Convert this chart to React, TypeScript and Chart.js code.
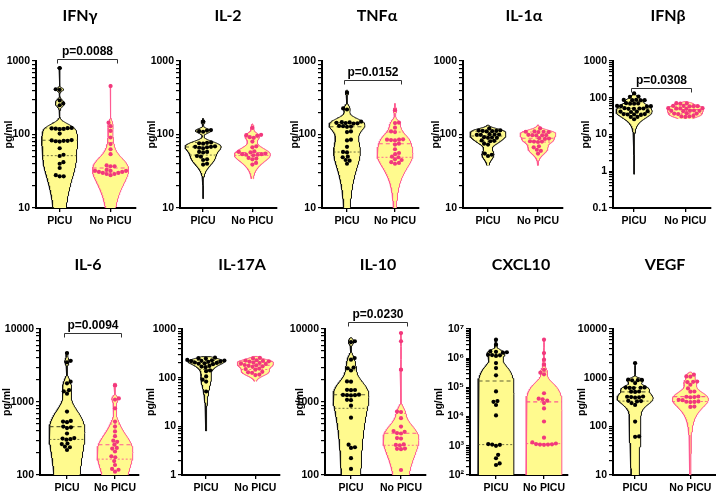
import React, { useEffect, useRef } from 'react';
import { Chart, registerables } from 'chart.js';
Chart.register(...registerables);

// ---------------- DATA ----------------
const categories = ['PICU', 'No PICU'];
const panelNames = ['IFNγ', 'IL-2', 'TNFα', 'IL-1α', 'IFNβ', 'IL-6', 'IL-17A', 'IL-10', 'CXCL10', 'VEGF'];

const ifngPicu = [800, 413, 405, 290, 265, 250, 123, 122, 121, 120, 119, 118, 103, 84, 83, 82, 82, 81, 80, 65, 53, 51, 42, 40, 35, 28, 27, 27];
const ifngNoPicu = [457, 145, 130, 112, 91, 74, 63, 54, 38, 37, 37, 33, 32, 32, 32, 31, 31, 30, 30, 29, 29, 28];
const il2Picu = [149, 115, 113, 111, 109, 78, 77, 76, 75, 69, 68, 68, 67, 66, 65, 58, 58, 57, 51, 50, 46, 45, 40, 39];
const il2NoPicu = [123, 99, 98, 96, 92, 90, 80, 69, 67, 59, 58, 57, 55, 54, 54, 53, 53, 52, 48, 47, 46, 41, 39];
const tnfaPicu = [370, 226, 219, 150, 147, 146, 144, 143, 142, 141, 131, 130, 128, 127, 110, 108, 85, 83, 68, 58, 57, 50, 49, 45, 44, 40];
const tnfaNoPicu = [214, 145, 143, 124, 110, 108, 86, 85, 85, 84, 83, 75, 73, 63, 56, 54, 50, 49, 46, 45, 42, 41, 40];
const il1aPicu = [121, 114, 113, 112, 112, 111, 110, 101, 100, 100, 99, 99, 92, 91, 90, 90, 83, 82, 81, 75, 73, 55, 53, 51];
const il1aNoPicu = [121, 110, 109, 109, 108, 108, 99, 98, 98, 97, 97, 89, 88, 87, 81, 80, 80, 79, 69, 67, 62, 60, 55];
const ifnbPicu = [131, 108, 106, 88, 87, 86, 86, 85, 71, 70, 69, 69, 60, 59, 59, 58, 52, 51, 51, 50, 50, 43, 42, 42, 41, 36, 36, 35, 35, 34, 30, 30, 26];
const ifnbNoPicu = [70, 69, 71, 60, 59, 58, 60, 59, 52, 51, 50, 52, 51, 44, 44, 43, 45, 44, 37, 37, 38, 36, 31, 31, 32, 30];
const il6Picu = [4680, 3670, 3500, 1900, 1800, 1450, 1400, 1300, 740, 550, 540, 530, 460, 450, 440, 370, 320, 315, 310, 305, 270, 265, 245, 240, 220];
const il6NoPicu = [1690, 1120, 1080, 820, 540, 460, 395, 340, 295, 285, 260, 235, 230, 210, 180, 175, 155, 137, 121, 118, 111];
const il17aPicu = [258, 252, 247, 232, 228, 225, 222, 219, 216, 212, 205, 201, 197, 193, 189, 174, 169, 164, 141, 136, 106, 91, 83, 52];
const il17aNoPicu = [255, 248, 228, 224, 221, 217, 213, 204, 200, 196, 192, 182, 179, 175, 171, 167, 154, 150, 146, 132, 129, 126, 116, 113];
const il10Picu = [6800, 6600, 4000, 3800, 2970, 2900, 2700, 1915, 1900, 1470, 1460, 1450, 1260, 1250, 1240, 1240, 1230, 1070, 1060, 890, 610, 260, 240, 235, 170, 121];
const il10NoPicu = [8800, 6800, 2770, 740, 730, 600, 460, 400, 390, 375, 370, 320, 315, 262, 258, 255, 230, 228, 226, 117];
const cxcl10Picu = [4.3e6, 2.9e6, 1.7e6, 1.65e6, 1.6e6, 1.55e6, 1.3e6, 1.28e6, 1.25e6, 1.2e6, 6.8e5, 4.6e5, 2.6e5, 7.3e4, 3.4e4, 3.2e4, 2.5e4, 1.1e4, 1150, 1100, 1080, 1000, 490, 375, 250, 220];
const cxcl10NoPicu = [4.3e6, 1.5e6, 8.9e5, 6e5, 4e5, 3.2e5, 2.8e5, 6.3e4, 4.1e4, 3.9e4, 3.5e4, 2.9e4, 1.9e4, 6.8e3, 1.9e3, 1.3e3, 1.2e3, 1.15e3, 1.12e3, 1.1e3, 1.1e3, 1.08e3];
const vegfPicu = [2000, 910, 900, 890, 880, 775, 630, 625, 620, 615, 610, 520, 515, 510, 410, 405, 400, 395, 390, 335, 330, 325, 300, 275, 125, 62, 61];
const vegfNoPicu = [1150, 1060, 1050, 830, 820, 810, 715, 600, 520, 515, 410, 405, 400, 395, 350, 345, 325, 320, 318, 315, 255, 250];

const groupValues = [
  [ifngPicu, ifngNoPicu], [il2Picu, il2NoPicu], [tnfaPicu, tnfaNoPicu], [il1aPicu, il1aNoPicu], [ifnbPicu, ifnbNoPicu],
  [il6Picu, il6NoPicu], [il17aPicu, il17aNoPicu], [il10Picu, il10NoPicu], [cxcl10Picu, cxcl10NoPicu], [vegfPicu, vegfNoPicu],
];

// violin extent (lowest, highest) per group; 0 = runs past the axis floor
const violinEndsPicu = [[0, 850], [13.4, 165], [0, 400], [38, 134], [0.83, 140], [0, 4800], [8, 270], [0, 7600], [0, 4.5e6], [0, 2000]];
const violinEndsNoPicu = [[0, 480], [25, 140], [0, 264], [38, 135], [27, 78], [0, 1800], [84, 273], [0, 8900], [0, 4.5e6], [0, 1300]];

const yAxisMin = [10, 10, 10, 10, 0.1, 100, 1, 100, 100, 10];
const yAxisMax = [1000, 1000, 1000, 1000, 1000, 10000, 1000, 10000, 1e7, 10000];
const yTickLabels = [
  ['10', '100', '1000'], ['10', '100', '1000'], ['10', '100', '1000'], ['10', '100', '1000'],
  ['0.1', '1', '10', '100', '1000'],
  ['100', '1000', '10000'], ['1', '10', '100', '1000'], ['100', '1000', '10000'],
  ['10²', '10³', '10⁴', '10⁵', '10⁶', '10⁷'], ['10', '100', '1000', '10000'],
];
const pLabels = ['p=0.0088', '', 'p=0.0152', '', 'p=0.0308', 'p=0.0094', '', 'p=0.0230', '', ''];
const pLevels = [1055, 0, 550, 0, 187, 8900, 0, 12600, 0, 0];

// ---------------- LAYOUT / STYLE ----------------
const layout = [
  { axisX: 36, c0: 59.5, c1: 110, row: 0, titleX: 80, yTitleOff: 27 },
  { axisX: 180, c0: 203, c1: 252, row: 0, titleX: 228, yTitleOff: 27.5 },
  { axisX: 322, c0: 347, c1: 395, row: 0, titleX: 377, yTitleOff: 27 },
  { axisX: 463, c0: 488, c1: 538, row: 0, titleX: 524, yTitleOff: 27 },
  { axisX: 613, c0: 634, c1: 685, row: 0, titleX: 668, yTitleOff: 27 },
  { axisX: 40, c0: 67, c1: 115, row: 1, titleX: 88, yTitleOff: 33 },
  { axisX: 182, c0: 206, c1: 255, row: 1, titleX: 242, yTitleOff: 31 },
  { axisX: 325, c0: 351, c1: 401, row: 1, titleX: 378, yTitleOff: 25 },
  { axisX: 470, c0: 496, c1: 544, row: 1, titleX: 521, yTitleOff: 31 },
  { axisX: 613, c0: 635, c1: 690, row: 1, titleX: 665, yTitleOff: 31 },
];
const rows = [
  { canvasTop: 0, canvasH: 245, plotTop: 61, plotBottom: 208, titleBase: 21 },
  { canvasTop: 245, canvasH: 249, plotTop: 329, plotBottom: 475, titleBase: 270 },
];
const Y_AXIS_W = 42;
const RIGHT_PAD = 4;
const HALF_W_PX = 18;
const DOT_R = 2.1;
const BW_FACTOR = 0.8;
const FONT = '"Liberation Sans", Arial, Helvetica, sans-serif';
const YELLOW = '#FFFA8E';
const groupStyle = [
  { line: '#111111', pt: '#000000', mid: 'rgba(70,70,40,0.85)' },
  { line: '#FF5A92', pt: '#F2387C', mid: '#FF5A92' },
];

// ---------------- HELPERS ----------------
function quantile(sorted: number[], p: number) {
  const pos = (sorted.length + 1) * p - 1;
  const lo = Math.floor(pos);
  if (lo < 0) return sorted[0];
  if (lo >= sorted.length - 1) return sorted[sorted.length - 1];
  return sorted[lo] + (pos - lo) * (sorted[lo + 1] - sorted[lo]);
}

function makeDensity(vals: number[]) {
  const s = [...vals].sort((a, b) => a - b);
  const n = s.length;
  const mean = s.reduce((a, b) => a + b, 0) / n;
  const sd = Math.sqrt(s.reduce((a, b) => a + (b - mean) * (b - mean), 0) / (n - 1));
  const iqr = quantile(s, 0.75) - quantile(s, 0.25);
  let h = BW_FACTOR * 0.9 * Math.min(sd, iqr > 0 ? iqr / 1.34 : sd) * Math.pow(n, -0.2);
  if (!(h > 0)) h = sd || 1;
  const f = (v: number) => {
    let t = 0;
    for (const x of s) { const z = (v - x) / h; t += Math.exp(-0.5 * z * z); }
    return t;
  };
  return { s, h, f };
}

function swarm(vals: number[], ppd: number, D: number) {
  const idx = vals.map((_, i) => i).sort((a, b) => vals[a] - vals[b]);
  const placed: { x: number; y: number }[] = [];
  const out = new Array(vals.length).fill(0);
  let flip = 1;
  for (const i of idx) {
    const y = Math.log10(vals[i]) * ppd;
    const near = placed.filter((p) => Math.abs(p.y - y) < D);
    const cands = [0];
    for (const p of near) {
      const dx = Math.sqrt(Math.max(0, D * D - (p.y - y) * (p.y - y)));
      cands.push(p.x + dx, p.x - dx);
    }
    cands.sort((a, b) => Math.abs(a) - Math.abs(b) || (a - b) * flip);
    let x = 0;
    for (const c of cands) {
      if (near.every((p) => (p.x - c) ** 2 + (p.y - y) ** 2 >= D * D - 1e-6)) { x = c; break; }
    }
    flip = -flip;
    placed.push({ x, y });
    out[i] = x;
  }
  return out;
}

function logTicks(min: number, max: number) {
  const e0 = Math.round(Math.log10(min));
  const e1 = Math.round(Math.log10(max));
  const out: { value: number; major: boolean }[] = [];
  for (let e = e0; e <= e1; e++) {
    const d = Math.pow(10, e);
    out.push({ value: d, major: true });
    if (e < e1) for (let k = 2; k <= 9; k++) out.push({ value: +(k * d).toPrecision(6), major: false });
  }
  return out;
}

const panelPlugin = {
  id: 'panelDecor',
  afterDraw(chart: any, _args: any, opts: any) {
    const { ctx } = chart;
    ctx.save();
    ctx.fillStyle = '#000';
    ctx.font = 'bold 16px Lato, "Open Sans", sans-serif';
    ctx.textAlign = 'center';
    ctx.textBaseline = 'alphabetic';
    ctx.fillText(opts.title, opts.titleX, opts.titleY);
    if (opts.pText) {
      const x = chart.scales.x;
      const y = chart.scales.y;
      const py = Math.round(y.getPixelForValue(opts.pLevel)) + 0.5;
      const x0 = Math.round(x.getPixelForValue(0)) - 3 + 0.5;
      const x1 = Math.round(x.getPixelForValue(1)) + 6 + 0.5;
      ctx.strokeStyle = '#333';
      ctx.lineWidth = 1;
      ctx.beginPath();
      ctx.moveTo(x0, py + 4);
      ctx.lineTo(x0, py);
      ctx.lineTo(x1, py);
      ctx.lineTo(x1, py + 4);
      ctx.stroke();
      ctx.font = `bold 12px ${FONT}`;
      ctx.textBaseline = 'bottom';
      ctx.fillText(opts.pText, (x0 + x1) / 2, py - 2);
    }
    ctx.restore();
  },
};

function Panel({ i }: { i: number }) {
  const ref = useRef<HTMLCanvasElement>(null);
  const L = layout[i];
  const R = rows[L.row];
  const spacing = L.c1 - L.c0;
  const xMin = -(L.c0 - L.axisX) / spacing;
  const xMax = 1.5;
  const plotW = (xMax - xMin) * spacing;
  const left = L.axisX - Y_AXIS_W;
  const cw = Math.ceil(Y_AXIS_W + plotW + RIGHT_PAD);
  const ch = R.canvasH;

  useEffect(() => {
    const yMin = yAxisMin[i];
    const yMax = yAxisMax[i];
    const plotH = R.plotBottom - R.plotTop;
    const ppd = plotH / (Math.log10(yMax) - Math.log10(yMin));
    const halfW = HALF_W_PX / spacing;
    const datasets: any[] = [];
    const ends = [violinEndsPicu[i], violinEndsNoPicu[i]];

    groupValues[i].forEach((vals, g) => {
      const st = groupStyle[g];
      const { s, f } = makeDensity(vals);
      const lo = Math.max(Math.min(ends[g][0] || 0, s[0]), yMin * 0.6);
      const hi = Math.max(ends[g][1], s[s.length - 1]);
      const N = 300;
      const tl = Math.log10(lo), th = Math.log10(hi);
      const vs: number[] = [];
      const ds: number[] = [];
      for (let k = 0; k <= N; k++) {
        const v = Math.pow(10, tl + (th - tl) * k / N);
        vs.push(v);
        ds.push(f(v));
      }
      const maxD = Math.max(...ds);
      const wOf = (v: number) => (f(v) / maxD) * halfW;
      const right = vs.map((v, k) => ({ x: g + (ds[k] / maxD) * halfW, y: v }));
      const leftSide = vs.map((v, k) => ({ x: g - (ds[k] / maxD) * halfW, y: v })).reverse();
      datasets.push({
        type: 'line', data: [...right, ...leftSide], fill: 'shape', backgroundColor: YELLOW,
        borderColor: st.line, borderWidth: 1, pointRadius: 0, tension: 0, order: 3,
      });
      [quantile(s, 0.25), quantile(s, 0.5), quantile(s, 0.75)].forEach((q, k) => {
        const w = wOf(q);
        datasets.push({
          type: 'line', data: [{ x: g - w, y: q }, { x: g + w, y: q }], borderColor: st.mid,
          borderWidth: k === 1 ? 1.1 : 0.9, borderDash: k === 1 ? [4, 3] : [2, 2], pointRadius: 0, fill: false, order: 2,
        });
      });
      const offs = swarm(vals, ppd, 2 * DOT_R - 0.2);
      datasets.push({
        type: 'scatter', data: vals.map((v, k) => ({ x: g + offs[k] / spacing, y: v })),
        pointRadius: DOT_R, pointBackgroundColor: st.pt, pointBorderWidth: 0, pointHoverRadius: DOT_R, order: 1,
      });
    });

    const ticks = logTicks(yMin, yMax);
    const e0 = Math.round(Math.log10(yMin));
    const labels = yTickLabels[i];

    const chart = new Chart(ref.current as HTMLCanvasElement, {
      type: 'scatter',
      data: { datasets },
      plugins: [panelPlugin as any],
      options: {
        responsive: false,
        animation: false,
        events: [],
        layout: { padding: { top: R.plotTop - R.canvasTop, left: 0, right: RIGHT_PAD, bottom: 0 } },
        plugins: {
          legend: { display: false },
          tooltip: { enabled: false },
          panelDecor: {
            title: panelNames[i], titleX: L.titleX - left, titleY: R.titleBase - R.canvasTop,
            pText: pLabels[i], pLevel: pLevels[i],
          },
        } as any,
        scales: {
          x: {
            type: 'linear', min: xMin, max: xMax,
            afterBuildTicks: (sc: any) => { sc.ticks = [{ value: 0 }, { value: 1 }]; },
            afterFit: (sc: any) => { sc.height = ch - (R.plotBottom - R.canvasTop); },
            ticks: {
              callback: (v: any) => categories[Math.round(v)] ?? '',
              font: { family: FONT, size: 10.5, weight: 'bold' }, color: '#000', padding: 3, autoSkip: false, maxRotation: 0,
            },
            grid: { drawOnChartArea: false, drawTicks: true, tickLength: 4, color: '#000', lineWidth: 1.3 },
            border: { display: true, color: '#000', width: 2 },
          },
          y: {
            type: 'logarithmic', min: yMin, max: yMax,
            afterBuildTicks: (sc: any) => { sc.ticks = ticks.map((t) => ({ ...t })); },
            afterFit: (sc: any) => { sc.width = Y_AXIS_W; },
            ticks: {
              autoSkip: false,
              callback: (v: any) => {
                const e = Math.log10(v);
                if (Math.abs(e - Math.round(e)) < 1e-6) return labels[Math.round(e) - e0] ?? '';
                return '';
              },
              font: { family: FONT, size: 10.5, weight: 'bold' }, color: '#000', padding: 2,
            },
            grid: { drawOnChartArea: false, drawTicks: true, tickLength: 4, color: '#000', lineWidth: 1.2 },
            border: { display: true, color: '#000', width: 2 },
            title: {
              display: true, text: 'pg/ml', color: '#000',
              font: { family: FONT, size: 10.5, weight: 'bold' },
              padding: { top: Y_AXIS_W - L.yTitleOff - 6.3, bottom: 0 },
            },
          },
        },
      } as any,
    });
    return () => chart.destroy();
  }, []);

  return (
    <canvas
      ref={ref}
      width={cw}
      height={ch}
      style={{ position: 'absolute', left, top: R.canvasTop, width: cw, height: ch }}
    />
  );
}

export default function App() {
  return (
    <div style={{ position: 'absolute', left: 0, top: 0, width: 716, height: 494, overflow: 'hidden', background: '#fff' }}>
      {layout.map((_, i) => <Panel key={i} i={i} />)}
    </div>
  );
}
